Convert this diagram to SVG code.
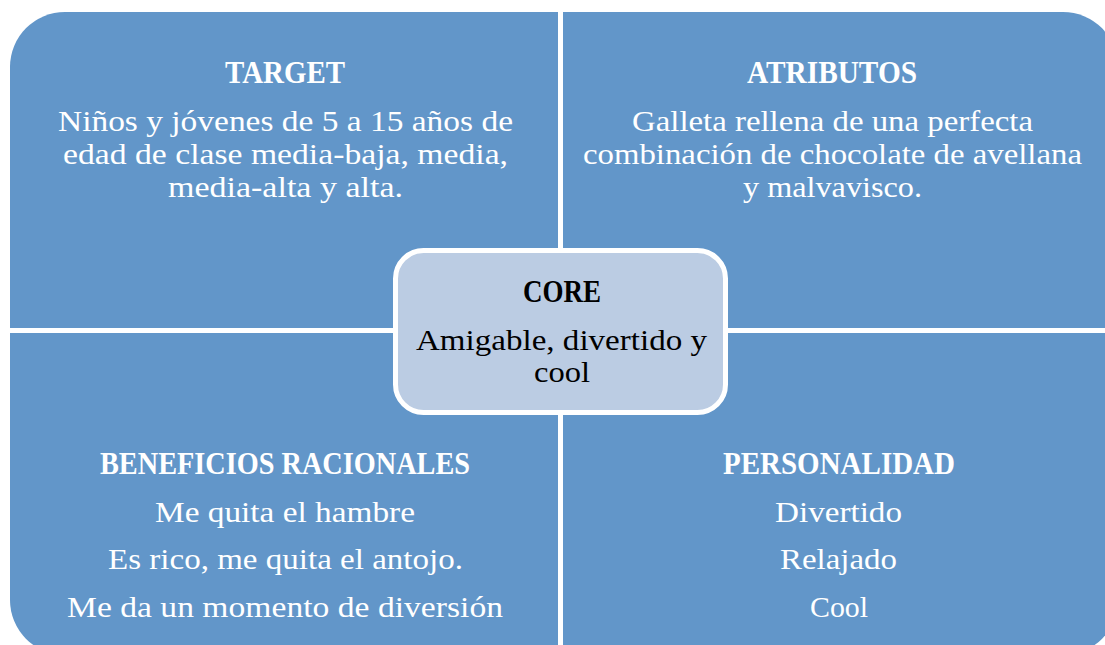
<svg xmlns="http://www.w3.org/2000/svg" width="1105" height="645" viewBox="0 0 1105 645">
<style>
.q{fill:#6296C9}
.t{font-family:"Liberation Serif","Times New Roman",serif;fill:#FFFFFF;text-anchor:middle}
.h{font-weight:bold;font-size:31px}
.b{font-size:30px}
.c{fill:#000000}
</style>
<rect width="1105" height="645" fill="#FFFFFF"/>
<g id="target">
<path class="q" d="M10,328 V67 A55,55 0 0 1 65,12 H558 V328 Z"/>
<text class="t h" x="285" y="83" textLength="120" lengthAdjust="spacingAndGlyphs">TARGET</text>
<text class="t b" x="285.5" y="131" textLength="455" lengthAdjust="spacingAndGlyphs">Niños y jóvenes de 5 a 15 años de</text>
<text class="t b" x="285.5" y="164" textLength="445" lengthAdjust="spacingAndGlyphs">edad de clase media-baja, media,</text>
<text class="t b" x="285.5" y="197" textLength="235" lengthAdjust="spacingAndGlyphs">media-alta y alta.</text>
</g>
<g id="atributos">
<path class="q" d="M563,12 H1063 A55,55 0 0 1 1118,67 V328 H563 Z"/>
<text class="t h" x="832" y="83" textLength="170" lengthAdjust="spacingAndGlyphs">ATRIBUTOS</text>
<text class="t b" x="832.5" y="131" textLength="401" lengthAdjust="spacingAndGlyphs">Galleta rellena de una perfecta</text>
<text class="t b" x="832.5" y="164" textLength="499" lengthAdjust="spacingAndGlyphs">combinación de chocolate de avellana</text>
<text class="t b" x="832.5" y="197" textLength="179" lengthAdjust="spacingAndGlyphs">y malvavisco.</text>
</g>
<g id="beneficios">
<path class="q" d="M10,333 H558 V655 H65 A55,55 0 0 1 10,600 Z"/>
<text class="t h" x="285" y="474" textLength="370" lengthAdjust="spacingAndGlyphs">BENEFICIOS RACIONALES</text>
<text class="t b" x="285" y="522" textLength="260" lengthAdjust="spacingAndGlyphs">Me quita el hambre</text>
<text class="t b" x="285.5" y="569" textLength="355" lengthAdjust="spacingAndGlyphs">Es rico, me quita el antojo.</text>
<text class="t b" x="285" y="617" textLength="436" lengthAdjust="spacingAndGlyphs">Me da un momento de diversión</text>
</g>
<g id="personalidad">
<path class="q" d="M563,333 H1118 V600 A55,55 0 0 1 1063,655 H563 Z"/>
<text class="t h" x="839" y="474" textLength="232" lengthAdjust="spacingAndGlyphs">PERSONALIDAD</text>
<text class="t b" x="838.5" y="522" textLength="127" lengthAdjust="spacingAndGlyphs">Divertido</text>
<text class="t b" x="838.5" y="569" textLength="117" lengthAdjust="spacingAndGlyphs">Relajado</text>
<text class="t b" x="839" y="617" textLength="58" lengthAdjust="spacingAndGlyphs">Cool</text>
</g>
<g id="core">
<rect x="395.5" y="250.5" width="330" height="162" rx="28" ry="28" fill="#BBCCE3" stroke="#FFFFFF" stroke-width="5"/>
<text class="t h c" x="562" y="302" textLength="78" lengthAdjust="spacingAndGlyphs">CORE</text>
<text class="t b c" x="561.5" y="350" textLength="291" lengthAdjust="spacingAndGlyphs">Amigable, divertido y</text>
<text class="t b c" x="562" y="382" textLength="56" lengthAdjust="spacingAndGlyphs">cool</text>
</g>
</svg>
